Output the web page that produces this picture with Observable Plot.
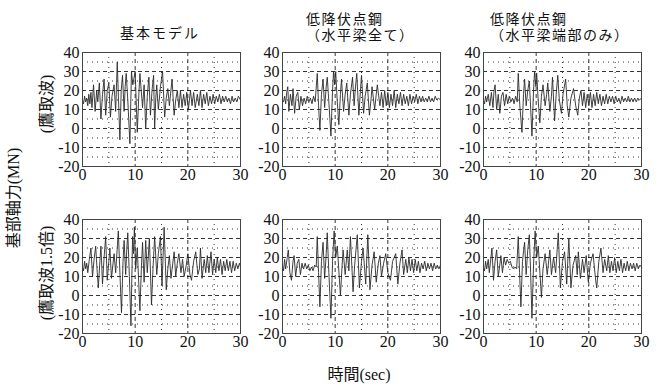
<!DOCTYPE html>
<html>
<head>
<meta charset="utf-8">
<script src="https://cdn.jsdelivr.net/npm/d3@7"></script>
<script src="https://cdn.jsdelivr.net/npm/@observablehq/plot@0.6"></script>
<style>
  html, body { margin: 0; padding: 0; background: #fff; }
  #root { position: relative; width: 661px; height: 389px; overflow: hidden; background: #fff;
          font-family: "Liberation Serif", "Noto Sans CJK JP", serif; color: #111; }
  #root svg text { font-family: "Liberation Serif", serif !important; }
  .panel { position: absolute; }
  .lbl { position: absolute; white-space: nowrap; font-size: 15px; line-height: 1; }
  .rot { position: absolute; white-space: nowrap; font-size: 15px; line-height: 1;
         transform: translate(-50%, -50%) rotate(-90deg); }
</style>
</head>
<body>
<div id="root"></div>
<script>
// ---- data ----
const columnTitles = [["基本モデル"], ["低降伏点鋼", "（水平梁全て）"], ["低降伏点鋼", "（水平梁端部のみ）"]];
const rowLabels = ["(鷹取波)", "(鷹取波1.5倍)"];
const yLabel = "基部軸力(MN)";
const xLabel = "時間(sec)";
const xTicks = [0, 10, 20, 30];
const yTicks = [-20, -10, 0, 10, 20, 30, 40];
const xMajorGrid = [10, 20];
const xMinorGrid = [5, 15, 25];
const yMajorGrid = [-10, 0, 10, 20, 30];
const yMinorGrid = [-15, -5, 5, 15, 25, 35];

// 鷹取波 / 基本モデル
const s1 = [[0,15],[0.2,13],[0.4,17],[0.6,14],[0.8,16],[1.0,12],[1.2,18],[1.4,13],[1.6,19],[1.8,11],[2.1,23],[2.4,9],[2.7,20],[2.9,14],[3.2,24],[3.5,5],[3.8,18],[4.1,26],[4.4,7],[4.7,20],[5.0,24],[5.3,6],[5.6,17],[6.0,23],[6.3,9],[6.6,35],[6.85,14],[7.1,-6],[7.35,20],[7.6,28],[7.9,9],[8.1,22],[8.3,29],[8.6,15],[9.0,-8],[9.3,30],[9.55,23],[10.0,30],[10.4,-2],[10.7,18],[10.9,29],[11.4,11],[11.7,23],[12.0,0],[12.3,17],[12.6,27],[12.9,7],[13.2,20],[13.5,28],[13.7,0],[13.9,15],[14.1,23],[14.4,10],[14.8,22],[15.2,30],[15.6,6],[15.9,16],[16.2,21],[16.5,12],[17.0,26],[17.4,7],[17.7,15],[18.0,20],[18.3,11],[18.6,20],[18.9,11],[19.2,18],[19.5,12],[19.8,19],[20.1,10],[20.5,20],[20.8,12],[21.1,19],[21.4,11],[21.8,18],[22.1,12],[22.4,20],[22.7,11],[23.0,18],[23.3,13],[23.6,19],[23.9,12],[24.2,17],[24.5,13],[24.8,18],[25.1,13],[25.4,17],[25.7,14],[26.0,18],[26.3,13],[26.6,17],[26.9,14],[27.2,17],[27.5,14],[27.8,16],[28.1,13],[28.4,17],[28.7,14],[29.0,16],[29.3,14],[29.6,17],[30,15]];
// 鷹取波 / 低降伏点鋼（水平梁全て）
const s2 = [[0,15],[0.2,14],[0.4,17],[0.6,13],[0.8,19],[1.0,22],[1.2,9],[1.5,18],[1.8,12],[2.0,21],[2.3,8],[2.6,17],[2.9,19],[3.2,10],[3.5,17],[3.8,12],[4.1,16],[4.4,13],[4.7,17],[5.0,14],[5.3,16],[5.6,13],[5.9,17],[6.2,14],[6.6,29],[6.85,12],[7.1,-1],[7.4,18],[7.7,26],[8.0,11],[8.3,22],[8.5,27],[8.8,14],[9.2,-4],[9.5,20],[9.7,30],[9.9,23],[10.1,30],[10.4,14],[10.7,2],[11.0,18],[11.2,26],[11.6,9],[11.9,18],[12.2,24],[12.6,7],[12.9,18],[13.3,27],[13.6,12],[13.8,20],[14.1,29],[14.5,7],[14.8,20],[15.0,28],[15.4,8],[15.7,17],[16.1,24],[16.5,7],[16.8,15],[17.0,22],[17.5,10],[17.8,18],[18.0,23],[18.5,12],[18.8,19],[19.1,11],[19.4,20],[19.7,12],[20.0,19],[20.3,11],[20.6,18],[20.9,12],[21.2,20],[21.5,11],[21.8,18],[22.1,13],[22.4,19],[22.7,12],[23.0,18],[23.3,13],[23.6,17],[23.9,12],[24.2,18],[24.5,13],[24.8,17],[25.1,14],[25.4,18],[25.7,13],[26.0,17],[26.3,14],[26.6,17],[26.9,14],[27.2,16],[27.5,14],[27.8,17],[28.1,14],[28.4,16],[28.7,14],[29.0,17],[29.3,15],[29.6,16],[30,15]];
// 鷹取波 / 低降伏点鋼（水平梁端部のみ）
const s3 = [[0,15],[0.2,13],[0.4,17],[0.6,14],[0.9,18],[1.2,12],[1.5,19],[1.8,11],[2.0,20],[2.2,23],[2.5,10],[2.8,18],[3.1,8],[3.4,17],[3.7,19],[4.0,12],[4.3,18],[4.6,13],[4.9,17],[5.2,14],[5.5,16],[5.8,13],[6.1,17],[6.4,14],[6.6,29],[6.9,12],[7.3,-2],[7.6,18],[7.8,26],[8.1,12],[8.4,20],[8.7,25],[8.9,14],[9.2,-4],[9.5,20],[9.7,30],[9.95,22],[10.1,29],[10.4,14],[10.7,3],[11.0,17],[11.3,23],[11.7,12],[12.0,18],[12.2,24],[12.6,9],[12.9,17],[13.1,27],[13.5,4],[13.8,18],[14.1,28],[14.4,15],[14.8,8],[15.1,18],[15.6,26],[15.9,12],[16.2,6],[16.6,16],[17.1,21],[17.5,12],[17.9,7],[18.2,16],[18.5,20],[18.8,12],[19.1,19],[19.4,11],[19.7,18],[20.0,12],[20.3,19],[20.6,11],[20.9,18],[21.2,12],[21.5,19],[21.8,13],[22.1,18],[22.4,12],[22.7,17],[23.0,13],[23.3,18],[23.6,13],[23.9,17],[24.2,14],[24.5,17],[24.8,13],[25.1,17],[25.4,14],[25.7,16],[26.0,13],[26.3,17],[26.6,14],[26.9,16],[27.2,14],[27.5,17],[27.8,14],[28.1,16],[28.4,14],[28.7,16],[29.0,14],[29.3,16],[29.6,15],[30,16]];
// 鷹取波1.5倍 / 基本モデル
const s4 = [[0,15],[0.2,13],[0.4,18],[0.6,14],[0.8,17],[1.0,12],[1.3,19],[1.6,25],[1.9,10],[2.2,19],[2.5,26],[2.8,12],[3.0,4],[3.3,18],[3.5,26],[3.8,6],[4.1,20],[4.4,31],[4.7,8],[5.0,18],[5.2,25],[5.5,9],[5.8,17],[6.0,22],[6.3,12],[6.8,34],[7.1,12],[7.4,-9],[7.7,18],[7.9,29],[8.2,11],[8.4,24],[8.6,33],[8.9,10],[9.2,-16],[9.4,14],[9.5,31],[9.7,22],[9.85,36],[10.1,14],[10.4,25],[10.9,-8],[11.2,16],[11.4,28],[11.7,7],[12.0,29],[12.3,12],[12.7,30],[13.1,-5],[13.4,15],[13.7,31],[14.1,11],[14.4,22],[14.8,31],[15.1,5],[15.5,36],[15.9,3],[16.2,14],[16.5,21],[16.8,9],[17.4,23],[17.7,10],[18.0,17],[18.3,22],[18.7,12],[19.0,19],[19.3,10],[19.7,16],[20.0,22],[20.4,11],[20.7,8],[21.1,18],[21.5,23],[21.9,11],[22.2,14],[22.4,25],[22.7,9],[23.1,19],[23.4,12],[23.7,21],[24.0,12],[24.4,23],[24.7,11],[25.0,19],[25.3,12],[25.6,20],[25.9,13],[26.2,19],[26.5,11],[26.8,18],[27.1,13],[27.4,19],[27.7,13],[28.0,18],[28.3,12],[28.6,18],[28.9,13],[29.2,17],[29.5,14],[29.8,17],[30,15]];
// 鷹取波1.5倍 / 低降伏点鋼（水平梁全て）
const s5 = [[0,16],[0.2,13],[0.4,19],[0.6,14],[0.9,20],[1.1,24],[1.4,12],[1.7,8],[2.0,18],[2.2,21],[2.5,10],[2.8,17],[3.1,19],[3.4,11],[3.7,17],[4.0,14],[4.3,17],[4.6,14],[4.9,16],[5.2,13],[5.5,15],[5.8,13],[6.1,16],[6.4,15],[6.6,31],[6.85,12],[7.1,-6],[7.4,18],[7.7,28],[8.0,9],[8.3,22],[8.5,33],[8.8,12],[9.2,-12],[9.5,18],[9.8,34],[10.1,20],[10.4,26],[11.0,0],[11.3,15],[11.5,24],[11.9,11],[12.3,24],[12.6,13],[12.9,31],[13.4,2],[13.7,16],[14.2,32],[14.6,4],[15.0,18],[15.3,25],[15.8,6],[16.2,32],[16.6,3],[17.0,16],[17.4,23],[17.8,7],[18.2,17],[18.5,21],[18.8,10],[19.2,17],[19.6,22],[20.0,12],[20.5,8],[20.9,18],[21.5,22],[21.9,6],[22.3,17],[22.7,24],[23.0,11],[23.4,19],[23.7,12],[24.0,20],[24.3,13],[24.6,19],[24.9,12],[25.2,19],[25.5,13],[25.8,18],[26.1,12],[26.4,17],[26.7,14],[27.0,18],[27.3,13],[27.6,17],[27.9,14],[28.2,17],[28.5,13],[28.8,17],[29.1,14],[29.4,16],[29.7,14],[30,16]];
// 鷹取波1.5倍 / 低降伏点鋼（水平梁端部のみ）
const s6 = [[0,15],[0.2,13],[0.4,18],[0.6,14],[0.9,19],[1.1,12],[1.3,17],[1.6,25],[1.9,8],[2.2,18],[2.5,24],[2.8,10],[3.0,14],[3.3,21],[3.6,12],[3.9,20],[4.2,16],[4.5,19],[4.8,17],[5.1,18],[5.4,15],[5.7,14],[6.0,15],[6.3,14],[6.6,31],[6.85,12],[7.1,-6],[7.4,18],[7.8,28],[8.1,11],[8.4,24],[8.7,32],[8.95,12],[9.2,-12],[9.5,16],[9.8,34],[10.1,20],[10.4,26],[11.0,-1],[11.3,14],[11.7,22],[12.1,11],[12.6,24],[12.9,11],[13.3,20],[13.7,12],[14.2,33],[14.6,4],[15.0,18],[15.4,23],[15.8,6],[16.2,30],[16.6,4],[17.0,16],[17.5,21],[17.8,11],[18.0,23],[18.4,9],[18.8,19],[19.1,12],[19.5,21],[19.9,7],[20.3,17],[20.8,22],[21.3,8],[21.5,4],[21.9,18],[22.3,25],[22.7,12],[23.0,19],[23.4,13],[23.7,21],[24.0,12],[24.3,18],[24.6,13],[24.9,20],[25.2,12],[25.5,18],[25.8,13],[26.1,19],[26.4,12],[26.7,17],[27.0,13],[27.3,18],[27.6,13],[27.9,17],[28.2,14],[28.5,17],[28.8,13],[29.1,17],[29.4,14],[29.7,16],[30,15]];

const series = [[s1, s2, s3], [s4, s5, s6]];

// ---- layout ----
const root = document.getElementById("root");
const frameLeft = [82, 282, 483];
const frameTop = [52, 219];
const fw = 158, fh = 114;
const mL = 40, mR = 10, mT = 10, mB = 26;

function panel(data) {
  const dash = {stroke: "#000", strokeWidth: 0.8, strokeDasharray: "4,3"};
  const dot = {stroke: "#000", strokeWidth: 0.8, strokeDasharray: "1,4"};
  return Plot.plot({
    width: fw + mL + mR, height: fh + mT + mB,
    marginLeft: mL, marginRight: mR, marginTop: mT, marginBottom: mB,
    x: {domain: [0, 30]},
    y: {domain: [-20, 40]},
    style: {fontFamily: "Liberation Serif, serif", fontSize: "16px", background: "transparent", color: "#111", overflow: "visible"},
    marks: [
      Plot.ruleY(yMinorGrid, dot),
      Plot.ruleX(xMinorGrid, dot),
      Plot.ruleY(yMajorGrid, dash),
      Plot.ruleX(xMajorGrid, dash),
      Plot.line(data, {x: d => d[0], y: d => d[1], stroke: "#2a2a2a", strokeWidth: 0.9}),
      Plot.frame({stroke: "#444", strokeWidth: 1}),
      Plot.axisX(xTicks, {tickSize: 0, tickPadding: 2, tickFormat: d => String(d), fontSize: 16}),
      Plot.axisY(yTicks, {tickSize: 0, tickPadding: 3, tickFormat: d => String(d), fontSize: 16})
    ]
  });
}

series.forEach((row, r) => row.forEach((data, c) => {
  const el = panel(data);
  el.classList.add("panel");
  el.style.left = (frameLeft[c] - mL) + "px";
  el.style.top = (frameTop[r] - mT) + "px";
  root.appendChild(el);
}));

function addLabel(text, x, y, cls, extra) {
  const d = document.createElement("div");
  d.className = cls;
  d.textContent = text;
  d.style.left = x + "px";
  d.style.top = y + "px";
  if (extra) Object.assign(d.style, extra);
  root.appendChild(d);
  return d;
}

// column titles (two-line titles as one block)
const tStyle = {fontFamily: "Noto Sans CJK JP", fontSize: "14px", lineHeight: "16px"};
addLabel(columnTitles[0][0], 160, 32, "lbl", Object.assign({transform: "translate(-50%,-50%)", letterSpacing: "2px"}, tStyle));
addLabel(columnTitles[1].join("\n"), 306, 10, "lbl", Object.assign({whiteSpace: "pre", letterSpacing: "1.5px"}, tStyle));
addLabel(columnTitles[2].join("\n"), 490, 10, "lbl", Object.assign({whiteSpace: "pre", letterSpacing: "1.5px"}, tStyle));

// y labels
addLabel(yLabel, 14, 198, "rot", {fontSize: "16px"});
addLabel(rowLabels[0], 47, 104, "rot", {fontSize: "16px"});
addLabel(rowLabels[1], 47, 273, "rot", {fontSize: "16px"});

// x label
addLabel(xLabel, 359, 375, "lbl", {transform: "translate(-50%,-50%)", fontSize: "16px"});
</script>
</body>
</html>
